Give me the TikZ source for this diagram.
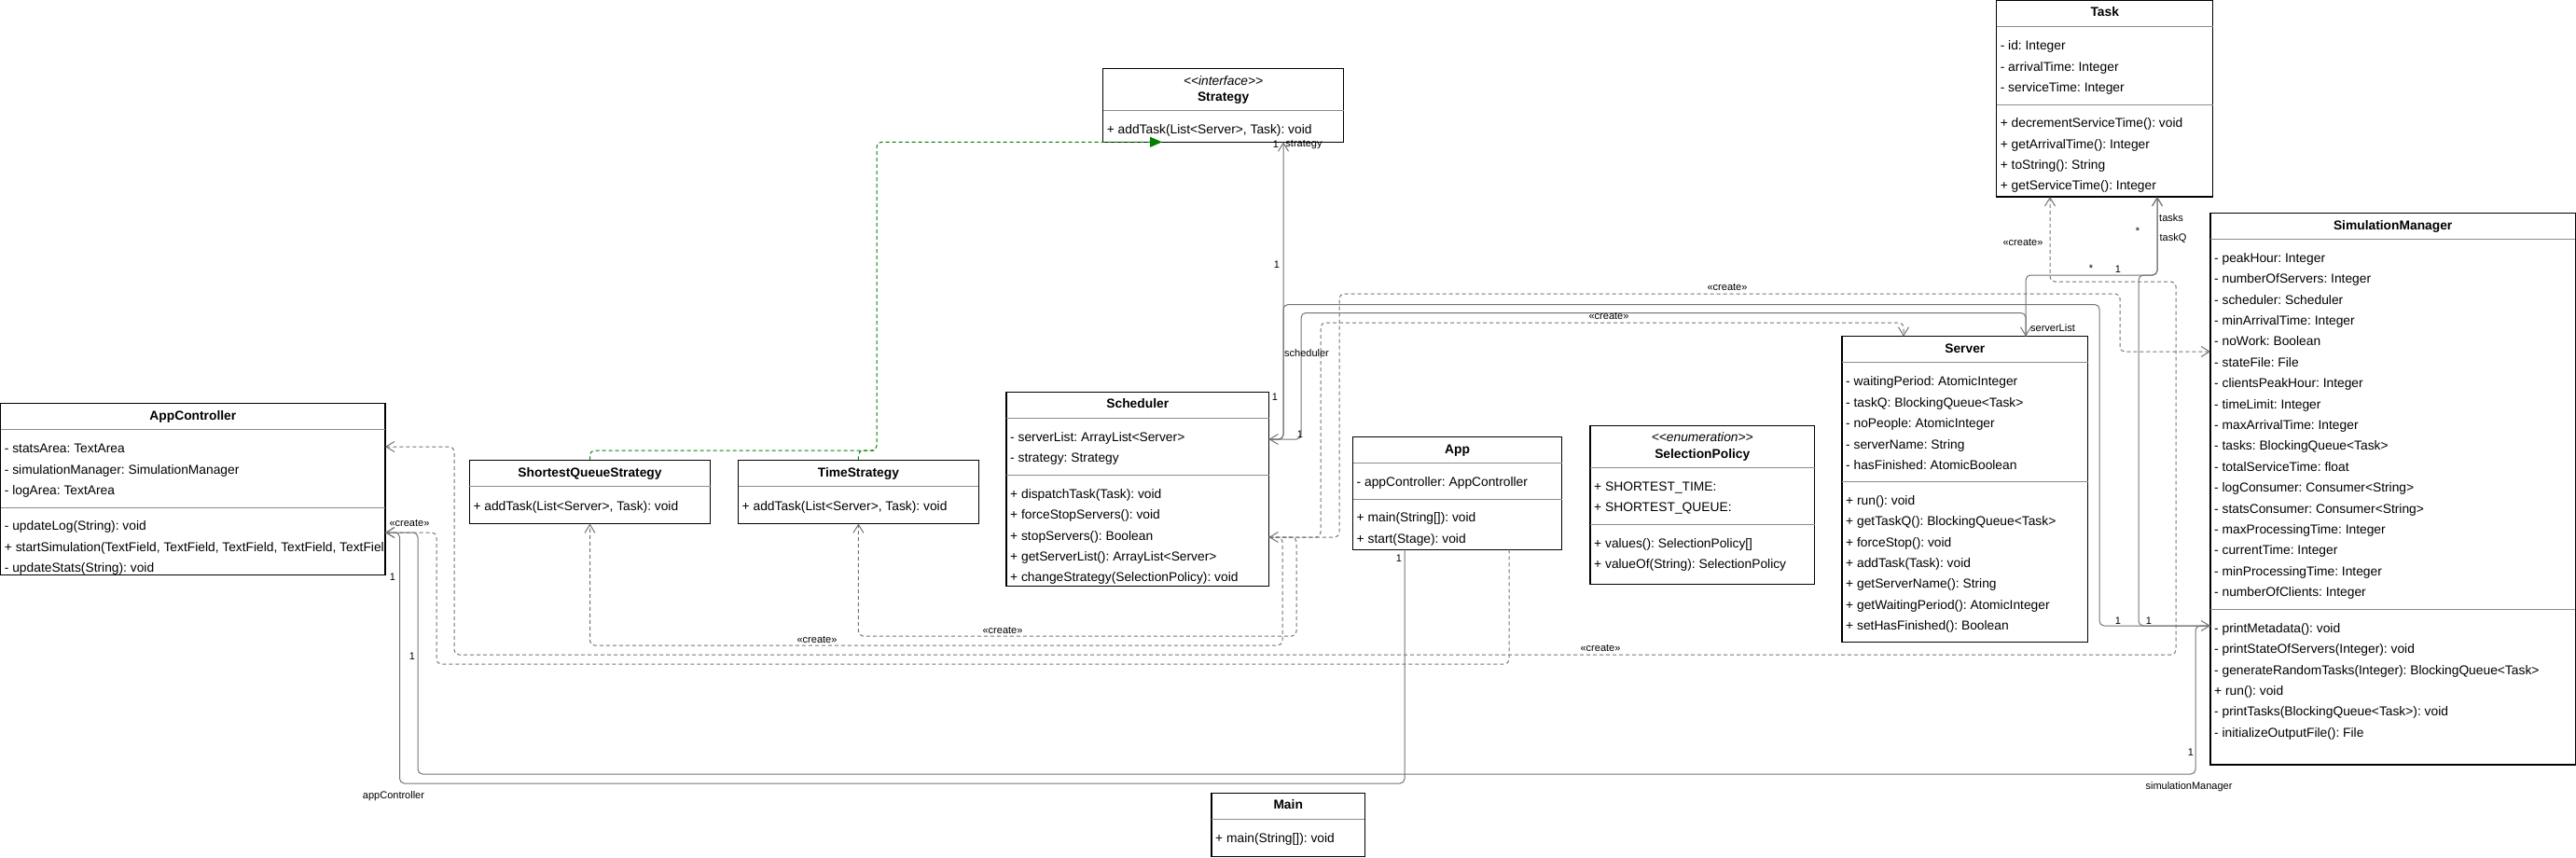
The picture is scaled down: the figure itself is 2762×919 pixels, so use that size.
\documentclass[tikz,border=0pt]{standalone}
\usepackage{fontspec}
\setmainfont{Liberation Sans}
\usetikzlibrary{arrows.meta}
\frenchspacing

\tikzset{
  classbox/.style={draw=black, line width=1.3pt, inner sep=0pt, outer sep=0pt, anchor=north west},
  sepline/.style={draw=black!45, line width=1pt},
  ctitle/.style={font=\fontsize{13.8}{16}\selectfont\bfseries, anchor=base, inner sep=0pt},
  stereo/.style={font=\fontsize{13.8}{16}\selectfont\itshape, anchor=base, inner sep=0pt},
  member/.style={anchor=base west, inner sep=0pt, xshift=4pt},
  lbl/.style={font=\fontsize{11}{13}\selectfont, inner sep=0pt},
  assoc/.style={draw=black!55, line width=1pt, rounded corners=5pt},
  create/.style={assoc, dash pattern=on 4pt off 3pt},
  tip/.style={-{Straight Barb[length=9pt,width=11pt]}},
  bitip/.style={{Straight Barb[length=9pt,width=11pt]}-{Straight Barb[length=9pt,width=11pt]}},
  realize/.style={draw=green!50!black, line width=1pt, dash pattern=on 4pt off 3pt, rounded corners=5pt}
}

\begin{document}
\begin{tikzpicture}[x=1pt, y=-1pt, font=\fontsize{13.8}{16}\selectfont]
\useasboundingbox (0,0) rectangle (2762,919);

% AppController
\node[classbox, minimum width=412.3pt, minimum height=184pt] (ac) at (0.7,432.3) {};
\draw[sepline] (ac.west |- 0,460.3) -- (ac.east |- 0,460.3);
\draw[sepline] (ac.west |- 0,544.3) -- (ac.east |- 0,544.3);
\node[ctitle] (ac-t) at (ac.north |- 0,450) {AppController};
\begin{scope}
\clip (ac.north west) rectangle (ac.south east);
\foreach \m [count=\i, evaluate=\i as \y using 485.6+(\i-1)*22.5] in {- statsArea: TextArea, - simulationManager: SimulationManager, - logArea: TextArea}
  \node[member] (ac-a\i) at (ac.west |- 0,\y) {\m};
\foreach \m [count=\i, evaluate=\i as \y using 568.6+(\i-1)*22.5] in {- updateLog(String): void, {+ startSimulation(TextField, TextField, TextField, TextField, TextField): void}, - updateStats(String): void}
  \node[member] (ac-m\i) at (ac.west |- 0,\y) {\m};
\end{scope}

% ShortestQueueStrategy and TimeStrategy
\node[classbox, minimum width=258.4pt, minimum height=68.2pt] (sqs) at (503.3,493.3) {};
\draw[sepline] (sqs.west |- 0,521.5) -- (sqs.east |- 0,521.5);
\node[ctitle] (sqs-t) at (sqs.north |- 0,511.6) {ShortestQueueStrategy};
\node[member] (sqs-m1) at (sqs.west |- 0,547.1) {+ addTask(List<Server>, Task): void};

\node[classbox, minimum width=257.8pt, minimum height=68.2pt] (ts) at (791.5,493.3) {};
\draw[sepline] (ts.west |- 0,521.5) -- (ts.east |- 0,521.5);
\node[ctitle] (ts-t) at (ts.north |- 0,511.6) {TimeStrategy};
\node[member] (ts-m1) at (ts.west |- 0,547.1) {+ addTask(List<Server>, Task): void};

% Strategy
\node[classbox, minimum width=258pt, minimum height=79pt] (strat) at (1182.6,73.3) {};
\draw[sepline] (strat.west |- 0,118.7) -- (strat.east |- 0,118.7);
\node[stereo] (strat-s) at (strat.north |- 0,91.3) {<{}<interface>{}>};
\node[ctitle] (strat-t) at (strat.north |- 0,108.3) {Strategy};
\node[member] (strat-m1) at (strat.west |- 0,143.9) {+ addTask(List<Server>, Task): void};

% Scheduler
\node[classbox, minimum width=281.5pt, minimum height=207.6pt] (sched) at (1079,420.7) {};
\draw[sepline] (sched.west |- 0,448.3) -- (sched.east |- 0,448.3);
\draw[sepline] (sched.west |- 0,509) -- (sched.east |- 0,509);
\node[ctitle] (sched-t) at (sched.north |- 0,437.7) {Scheduler};
\foreach \m [count=\i, evaluate=\i as \y using 473.6+(\i-1)*22.2] in {- serverList: ArrayList<Server>, - strategy: Strategy}
  \node[member] (sched-a\i) at (sched.west |- 0,\y) {\m};
\foreach \m [count=\i, evaluate=\i as \y using 534.6+(\i-1)*22.25] in {+ dispatchTask(Task): void, + forceStopServers(): void, + stopServers(): Boolean, + getServerList(): ArrayList<Server>, + changeStrategy(SelectionPolicy): void}
  \node[member] (sched-m\i) at (sched.west |- 0,\y) {\m};

% App
\node[classbox, minimum width=224pt, minimum height=121pt] (app) at (1450.5,468.3) {};
\draw[sepline] (app.west |- 0,496.7) -- (app.east |- 0,496.7);
\draw[sepline] (app.west |- 0,535.7) -- (app.east |- 0,535.7);
\node[ctitle] (app-t) at (app.north |- 0,486) {App};
\node[member] (app-a1) at (app.west |- 0,521.6) {- appController: AppController};
\foreach \m [count=\i, evaluate=\i as \y using 559.6+(\i-1)*22.7] in {+ main(String[]): void, + start(Stage): void}
  \node[member] (app-m\i) at (app.west |- 0,\y) {\m};

% SelectionPolicy
\node[classbox, minimum width=240.5pt, minimum height=169.8pt] (selp) at (1705,456.5) {};
\draw[sepline] (selp.west |- 0,501.3) -- (selp.east |- 0,501.3);
\draw[sepline] (selp.west |- 0,562.3) -- (selp.east |- 0,562.3);
\node[stereo] (selp-s) at (selp.north |- 0,473.9) {<{}<enumeration>{}>};
\node[ctitle] (selp-t) at (selp.north |- 0,491.3) {SelectionPolicy};
\foreach \m [count=\i, evaluate=\i as \y using 526.6+(\i-1)*22.3] in {+ SHORTEST\_TIME:, + SHORTEST\_QUEUE:}
  \node[member] (selp-a\i) at (selp.west |- 0,\y) {\m};
\foreach \m [count=\i, evaluate=\i as \y using 587.6+(\i-1)*22] in {+ values(): SelectionPolicy[], + valueOf(String): SelectionPolicy}
  \node[member] (selp-m\i) at (selp.west |- 0,\y) {\m};

% Server
\node[classbox, minimum width=263.6pt, minimum height=327.6pt] (server) at (1975,360.7) {};
\draw[sepline] (server.west |- 0,388.3) -- (server.east |- 0,388.3);
\draw[sepline] (server.west |- 0,516) -- (server.east |- 0,516);
\node[ctitle] (server-t) at (server.north |- 0,378.3) {Server};
\foreach \m [count=\i, evaluate=\i as \y using 413.6+(\i-1)*22.5] in {- waitingPeriod: AtomicInteger, - taskQ: BlockingQueue<Task>, - noPeople: AtomicInteger, - serverName: String, - hasFinished: AtomicBoolean}
  \node[member] (server-a\i) at (server.west |- 0,\y) {\m};
\foreach \m [count=\i, evaluate=\i as \y using 541.3+(\i-1)*22.4] in {+ run(): void, + getTaskQ(): BlockingQueue<Task>, + forceStop(): void, + addTask(Task): void, + getServerName(): String, + getWaitingPeriod(): AtomicInteger, + setHasFinished(): Boolean}
  \node[member] (server-m\i) at (server.west |- 0,\y) {\m};

% Task
\node[classbox, minimum width=232.2pt, minimum height=210.3pt] (task) at (2140.6,0.7) {};
\draw[sepline] (task.west |- 0,28.3) -- (task.east |- 0,28.3);
\draw[sepline] (task.west |- 0,112.3) -- (task.east |- 0,112.3);
\node[ctitle] (task-t) at (task.north |- 0,17.7) {Task};
\foreach \m [count=\i, evaluate=\i as \y using 53.9+(\i-1)*22.3] in {- id: Integer, - arrivalTime: Integer, - serviceTime: Integer}
  \node[member] (task-a\i) at (task.west |- 0,\y) {\m};
\foreach \m [count=\i, evaluate=\i as \y using 136.9+(\i-1)*22.3] in {+ decrementServiceTime(): void, + getArrivalTime(): Integer, + toString(): String, + getServiceTime(): Integer}
  \node[member] (task-m\i) at (task.west |- 0,\y) {\m};

% SimulationManager
\node[classbox, minimum width=391.3pt, minimum height=591.7pt] (simm) at (2370,228.3) {};
\draw[sepline] (simm.west |- 0,256) -- (simm.east |- 0,256);
\draw[sepline] (simm.west |- 0,653.3) -- (simm.east |- 0,653.3);
\node[ctitle] (simm-t) at (simm.north |- 0,246) {SimulationManager};
\foreach \m [count=\i, evaluate=\i as \y using 281.3+(\i-1)*22.4] in {- peakHour: Integer, - numberOfServers: Integer, - scheduler: Scheduler, - minArrivalTime: Integer, - noWork: Boolean, - stateFile: File, - clientsPeakHour: Integer, - timeLimit: Integer, - maxArrivalTime: Integer, - tasks: BlockingQueue<Task>, - totalServiceTime: float, - logConsumer: Consumer<String>, - statsConsumer: Consumer<String>, - maxProcessingTime: Integer, - currentTime: Integer, - minProcessingTime: Integer, - numberOfClients: Integer}
  \node[member] (simm-a\i) at (simm.west |- 0,\y) {\m};
\foreach \m [count=\i, evaluate=\i as \y using 678.6+(\i-1)*22.3] in {- printMetadata(): void, - printStateOfServers(Integer): void, - generateRandomTasks(Integer): BlockingQueue<Task>, + run(): void, - printTasks(BlockingQueue<Task>): void, - initializeOutputFile(): File}
  \node[member] (simm-m\i) at (simm.west |- 0,\y) {\m};

% Main
\node[classbox, minimum width=164.4pt, minimum height=67.6pt] (main) at (1299,850.7) {};
\draw[sepline] (main.west |- 0,878.3) -- (main.east |- 0,878.3);
\node[ctitle] (main-t) at (main.north |- 0,867.7) {Main};
\node[member] (main-m1) at (main.west |- 0,903.6) {+ main(String[]): void};

% realization
\draw[realize, -{Triangle[length=13pt,width=11pt]}] (sqs.north) |- (940,483) |- (strat.south -| 1246,0);
\draw[realize] (ts.north) |- (940,483);

% create dependencies
\draw[create, bitip] (sched.east |- 0,576) -| (1436,315) -| (2273,377) -- (simm.west |- 0,377);
\draw[create, tip] (sched.east |- 0,576) -| (1416,346) -| (server.north -| 2041,0);
\draw[create, tip] (sched.east |- 0,576) -| (1390,682) -| (ts.south);
\draw[create, tip] (sched.east |- 0,576) -| (1375,692) -| (sqs.south);
\draw[create, tip] (app.south -| 1618,0) |- (468,712) |- (ac.east |- 0,571);
\draw[create, bitip] (ac.east |- 0,479) -| (487,702) -| (2333,302) -| (task.south -| 2198,0);

% associations
\draw[assoc, tip] (sched.east |- 0,471) -| (strat.south -| 1376,0);
\draw[assoc, tip] (simm.west |- 0,671) -- (2251,671) -- (2251,326.5) -- (1376,326.5) -- (1376,471) -- (sched.east |- 0,471);
\draw[assoc, tip] (sched.east |- 0,471) -| (1395,335.5) -| (server.north -| 2172,0);
\draw[assoc, tip] (server.north -| 2172,0) |- (2313,295) -- (task.south -| 2313,0);
\draw[assoc, tip] (simm.west |- 0,671) -| (2293,295) -| (task.south -| 2313,0);
\draw[assoc, tip] (ac.east |- 0,571) -| (448,830) -| (2354,671) -- (simm.west |- 0,671);
\draw[assoc, tip] (app.south -| 1506,0) |- (428.5,840) |- (ac.east |- 0,571);

% labels
\node[lbl] (l-st1) at (1368,155) {1};
\node[lbl] (l-st2) at (1398,155) {strategy};
\node[lbl] (l-st3) at (1369,284) {1};
\node[lbl] (l-sc1) at (1367,426) {1};
\node[lbl] (l-sc2) at (1401,379) {scheduler};
\node[lbl] (l-sc3) at (1394,466) {1};
\node[lbl] (l-cr1) at (1725,339) {«create»};
\node[lbl] (l-cr2) at (1852,308) {«create»};
\node[lbl] (l-sl) at (2201,352) {serverList};
\node[lbl] (l-tq1) at (2242,288) {*};
\node[lbl] (l-tq2) at (2271,289) {1};
\node[lbl] (l-tq3) at (2292,248) {*};
\node[lbl] (l-tk) at (2328,234) {tasks};
\node[lbl] (l-tq) at (2330,256) {taskQ};
\node[lbl] (l-cr3) at (2169,260) {«create»};
\node[lbl] (l-sm1) at (2271,666) {1};
\node[lbl] (l-sm2) at (2304,666) {1};
\node[lbl] (l-sm3) at (2349,807) {1};
\node[lbl] (l-sm4) at (2347,844) {simulationManager};
\node[lbl] (l-cr4) at (1716,695) {«create»};
\node[lbl] (l-cr5) at (1075,676) {«create»};
\node[lbl] (l-cr6) at (876,686) {«create»};
\node[lbl] (l-cr7) at (439,561) {«create»};
\node[lbl] (l-ac1) at (421,619) {1};
\node[lbl] (l-ac2) at (442,704) {1};
\node[lbl] (l-ac3) at (422,854) {appController};
\node[lbl] (l-app) at (1500,599) {1};
\end{tikzpicture}
\end{document}
